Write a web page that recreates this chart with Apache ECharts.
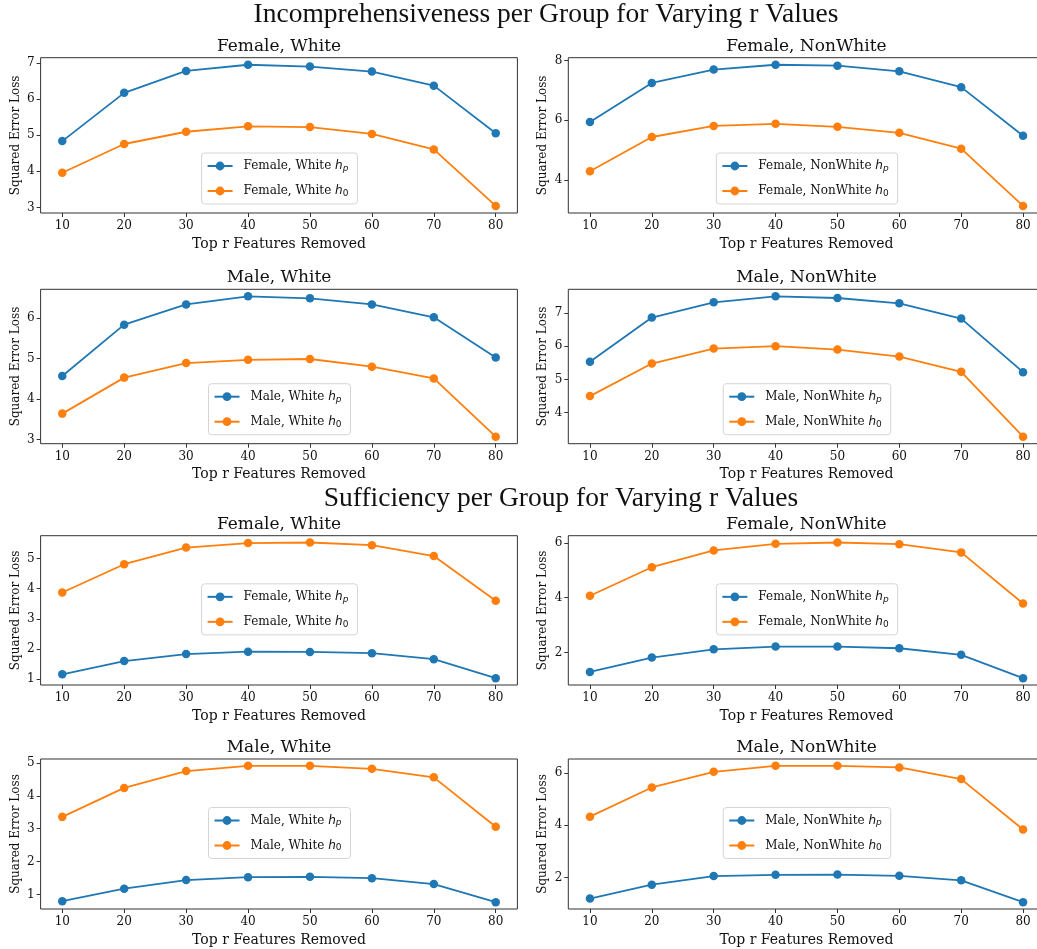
<!DOCTYPE html>
<html>
<head>
<meta charset="utf-8">
<script src="https://cdn.jsdelivr.net/npm/echarts@6/dist/echarts.min.js"></script>
<style>
  html, body { margin: 0; padding: 0; background: #fff; }
  #main { width: 1037px; height: 949px; }
</style>
</head>
<body>
<div id="main"></div>
<script>
// x values: top r features removed
const xs = [10, 20, 30, 40, 50, 60, 70, 80];

// Incomprehensiveness
const incFemaleWhiteHp = [4.84, 6.18, 6.79, 6.96, 6.91, 6.77, 6.38, 5.06];
const incFemaleWhiteH0 = [3.96, 4.76, 5.10, 5.25, 5.23, 5.04, 4.61, 3.04];
const incFemaleNonWhiteHp = [5.94, 7.25, 7.70, 7.86, 7.83, 7.64, 7.11, 5.48];
const incFemaleNonWhiteH0 = [4.29, 5.44, 5.81, 5.88, 5.78, 5.58, 5.05, 3.13];
const incMaleWhiteHp = [4.57, 5.84, 6.34, 6.54, 6.49, 6.34, 6.02, 5.03];
const incMaleWhiteH0 = [3.64, 4.53, 4.89, 4.97, 4.99, 4.80, 4.51, 3.07];
const incMaleNonWhiteHp = [5.53, 6.86, 7.32, 7.50, 7.45, 7.29, 6.83, 5.22];
const incMaleNonWhiteH0 = [4.50, 5.48, 5.93, 6.00, 5.90, 5.69, 5.23, 3.28];

// Sufficiency
const sufFemaleWhiteHp = [1.16, 1.60, 1.83, 1.91, 1.90, 1.86, 1.66, 1.03];
const sufFemaleWhiteH0 = [3.87, 4.81, 5.36, 5.51, 5.53, 5.44, 5.08, 3.60];
const sufFemaleNonWhiteHp = [1.30, 1.82, 2.12, 2.22, 2.22, 2.16, 1.92, 1.07];
const sufFemaleNonWhiteH0 = [4.07, 5.11, 5.72, 5.96, 6.01, 5.95, 5.65, 3.79];
const sufMaleWhiteHp = [0.80, 1.18, 1.44, 1.53, 1.54, 1.50, 1.32, 0.77];
const sufMaleWhiteH0 = [3.36, 4.24, 4.75, 4.91, 4.91, 4.82, 4.56, 3.06];
const sufMaleNonWhiteHp = [1.19, 1.72, 2.05, 2.10, 2.11, 2.06, 1.89, 1.05];
const sufMaleNonWhiteH0 = [4.33, 5.45, 6.05, 6.28, 6.28, 6.22, 5.77, 3.84];

// y tick labels per panel
const ticksIncFW = [3, 4, 5, 6, 7];
const ticksIncFNW = [4, 6, 8];
const ticksIncMW = [3, 4, 5, 6];
const ticksIncMNW = [4, 5, 6, 7];
const ticksSufFW = [1, 2, 3, 4, 5];
const ticksSufFNW = [2, 4, 6];
const ticksSufMW = [1, 2, 3, 4, 5];
const ticksSufMNW = [2, 4, 6];

const suptitles = ['Incomprehensiveness per Group for Varying r Values', 'Sufficiency per Group for Varying r Values'];

const panels = [
  {group: 'Female, White', hp: incFemaleWhiteHp, h0: incFemaleWhiteH0, ticks: ticksIncFW},
  {group: 'Female, NonWhite', hp: incFemaleNonWhiteHp, h0: incFemaleNonWhiteH0, ticks: ticksIncFNW},
  {group: 'Male, White', hp: incMaleWhiteHp, h0: incMaleWhiteH0, ticks: ticksIncMW},
  {group: 'Male, NonWhite', hp: incMaleNonWhiteHp, h0: incMaleNonWhiteH0, ticks: ticksIncMNW},
  {group: 'Female, White', hp: sufFemaleWhiteHp, h0: sufFemaleWhiteH0, ticks: ticksSufFW},
  {group: 'Female, NonWhite', hp: sufFemaleNonWhiteHp, h0: sufFemaleNonWhiteH0, ticks: ticksSufFNW},
  {group: 'Male, White', hp: sufMaleWhiteHp, h0: sufMaleWhiteH0, ticks: ticksSufMW},
  {group: 'Male, NonWhite', hp: sufMaleNonWhiteHp, h0: sufMaleNonWhiteH0, ticks: ticksSufMNW}
];

// layout (px)
const colLeft = [40.6, 568.3];
const colRight = [519.6, -7.7];
const rowTop = [57.7, 289.3, 535.7, 759];
const rowH = [155.3, 154.4, 149.3, 150];
const W = 1037;

const BLUE = '#1f77b4', ORANGE = '#ff7f0e';
const SERIF = 'DejaVu Serif';
const TXT = '#111';
const LFS = 12; // legend font size

// measure legend text width
const ctx = document.createElement('canvas').getContext('2d');
function tw(s, font) { ctx.font = font; return ctx.measureText(s).width; }

const legendPad = [7, 9, 6, 5];
function legendWidth(group) {
  const t = tw(group + ' ', LFS + 'px "' + SERIF + '"');
  const h = tw('h', 'italic ' + LFS + 'px "DejaVu Sans"');
  const s = tw('p', 'italic 9px "DejaVu Sans"');
  return legendPad[3] + 25 + 5 + 6 + t + h + s + legendPad[1];
}

const grid = [], xAxis = [], yAxis = [], series = [], legend = [];
const title = [
  {text: suptitles[0], left: 546, top: 1, textAlign: 'center', padding: 0,
   textStyle: {fontFamily: 'Liberation Serif', fontSize: 27.5, fontWeight: 'normal', color: TXT}},
  {text: suptitles[1], left: 561, top: 485, textAlign: 'center', padding: 0,
   textStyle: {fontFamily: 'Liberation Serif', fontSize: 27.5, fontWeight: 'normal', color: TXT}}
];

panels.forEach((p, i) => {
  const col = i % 2, row = Math.floor(i / 2);
  const left = colLeft[col], right = colRight[col];
  const top = rowTop[row], h = rowH[row];
  const width = W - left - right;
  const cx = left + width / 2;

  grid.push({left: left, right: right, top: top, height: h, show: true,
    outerBoundsMode: 'none', containLabel: false,
    borderColor: '#333', borderWidth: 1, backgroundColor: 'transparent'});

  title.push({text: p.group, left: cx, top: top - 20, textAlign: 'center', padding: 0,
    textStyle: {fontFamily: SERIF, fontSize: 17, fontWeight: 'normal', color: TXT}});

  xAxis.push({
    type: 'value', gridIndex: i,
    min: 6.5, max: 83.5,
    name: 'Top r Features Removed', nameLocation: 'middle', nameGap: 24,
    nameTextStyle: {fontFamily: SERIF, fontSize: 14, color: TXT},
    axisLine: {show: false},
    axisTick: {show: true, inside: false, length: 4, lineStyle: {color: '#333'}, customValues: xs},
    axisLabel: {fontFamily: SERIF, fontSize: 12, color: TXT, margin: 7, customValues: xs},
    splitLine: {show: false}
  });

  yAxis.push({
    type: 'value', gridIndex: i,
    min: v => v.min - (v.max - v.min) * 0.05,
    max: v => v.max + (v.max - v.min) * 0.05,
    name: 'Squared Error Loss', nameLocation: 'middle', nameGap: 19,
    nameTextStyle: {fontFamily: SERIF, fontSize: 12, color: TXT},
    axisLine: {show: false},
    axisTick: {show: true, inside: false, length: 4, lineStyle: {color: '#333'}, customValues: p.ticks},
    axisLabel: {fontFamily: SERIF, fontSize: 12, color: TXT, margin: 6, customValues: p.ticks},
    splitLine: {show: false}
  });

  const nHp = p.group + ' h_p', nH0 = p.group + ' h_0';
  [[nHp, p.hp, BLUE], [nH0, p.h0, ORANGE]].forEach(([name, vals, color]) => {
    series.push({
      type: 'line', name: name, xAxisIndex: i, yAxisIndex: i,
      data: xs.map((x, j) => [x, vals[j]]),
      symbol: 'circle', symbolSize: 8.5, showSymbol: true,
      itemStyle: {color: color},
      lineStyle: {color: color, width: 1.8},
      emphasis: {disabled: true}
    });
  });

  // legend: lower center for top figure, center for bottom figure
  const lw = legendWidth(p.group);
  const lh = 53;
  const ltop = row < 2 ? top + h - 7 - lh : top + h / 2 - lh / 2;
  legend.push({
    data: [nHp, nH0], orient: 'vertical',
    left: cx - lw / 2, top: ltop,
    itemWidth: 25, itemHeight: 11, itemGap: 12,
    padding: legendPad,
    borderColor: '#d5d5d5', borderWidth: 1, borderRadius: 3,
    backgroundColor: 'rgba(255,255,255,0.8)',
    selectedMode: false,
    formatter: n => {
      const parts = n.split(' h_');
      const sub = parts[1] === 'p' ? 'sp' : 's0';
      return '{t|' + parts[0] + ' }{h|h}{' + sub + '|' + parts[1] + '}';
    },
    textStyle: {
      color: TXT,
      rich: {
        t: {fontFamily: SERIF, fontSize: LFS, color: TXT, lineHeight: 14, padding: [0, 0, 0, 6]},
        h: {fontFamily: 'DejaVu Sans', fontStyle: 'italic', fontSize: LFS, color: TXT, lineHeight: 14},
        sp: {fontFamily: 'DejaVu Sans', fontStyle: 'italic', fontSize: 9, color: TXT, lineHeight: 8, verticalAlign: 'bottom'},
        s0: {fontFamily: 'DejaVu Sans', fontSize: 9, color: TXT, lineHeight: 8, verticalAlign: 'bottom'}
      }
    }
  });
});

const chart = echarts.init(document.getElementById('main'), null, {renderer: 'canvas'});
chart.setOption({
  animation: false,
  backgroundColor: '#fff',
  title: title,
  grid: grid,
  xAxis: xAxis,
  yAxis: yAxis,
  legend: legend,
  series: series
});
</script>
</body>
</html>
